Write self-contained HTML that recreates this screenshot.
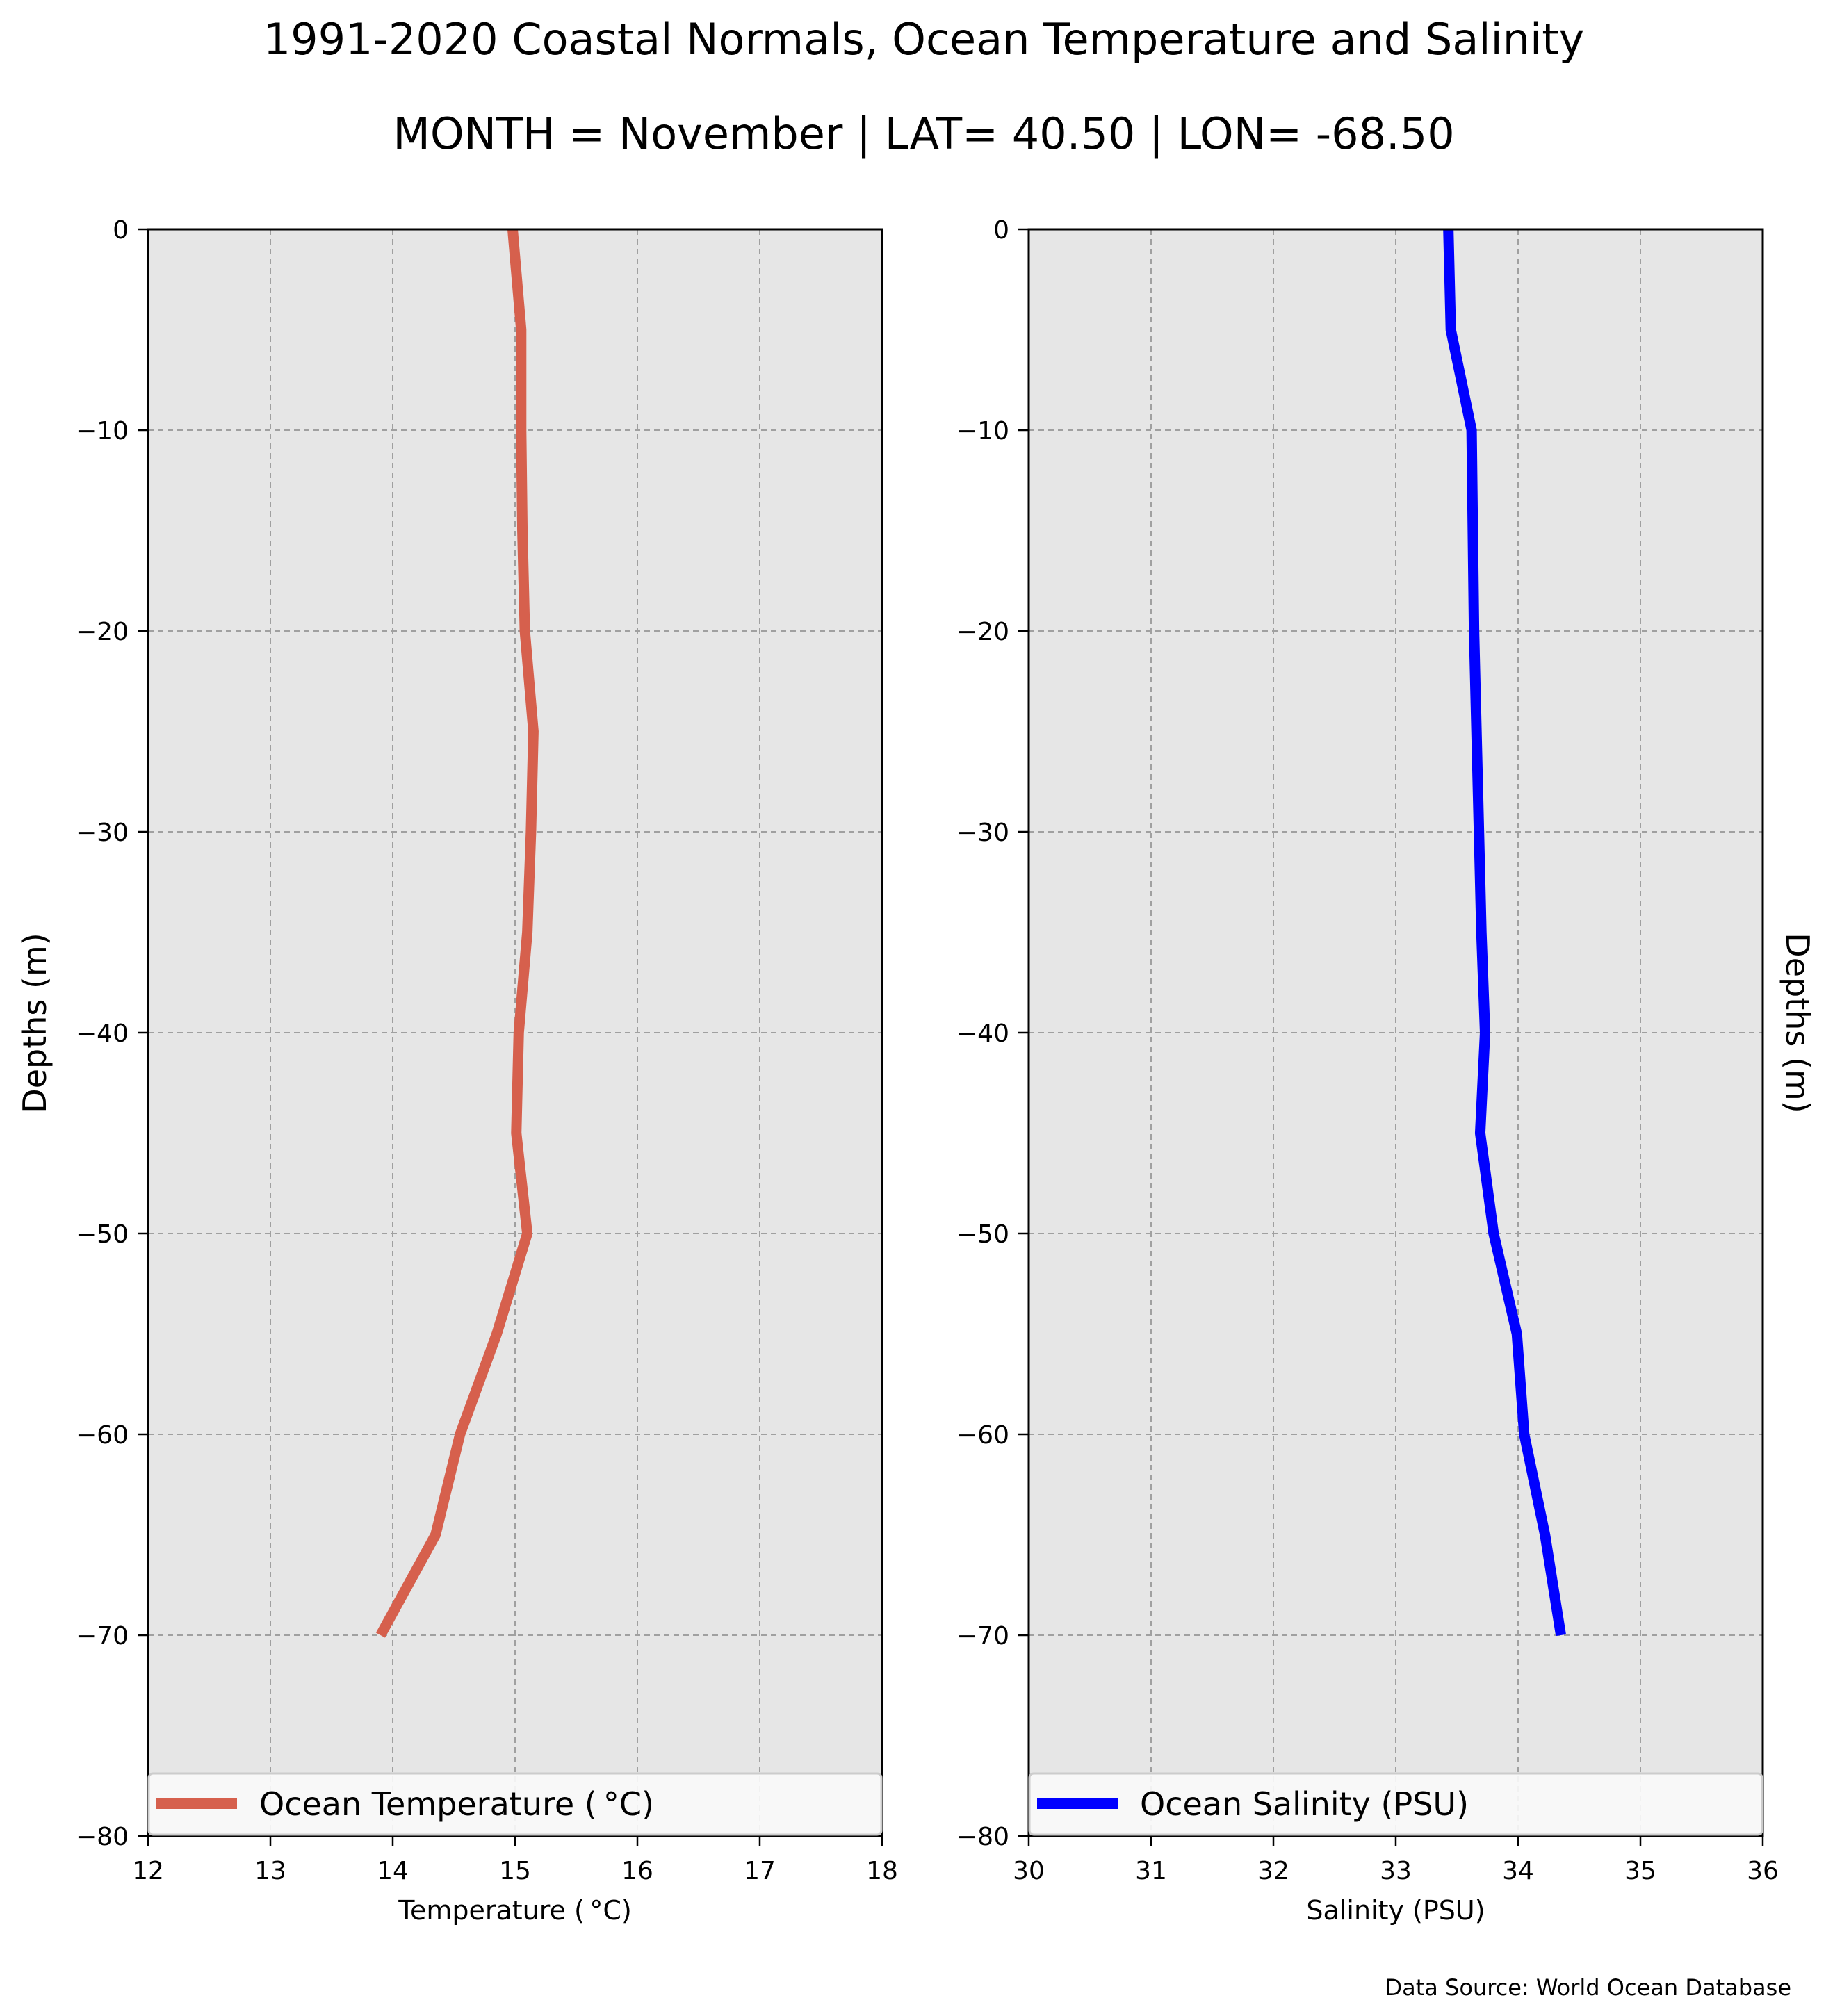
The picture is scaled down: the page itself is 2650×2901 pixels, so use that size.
<!DOCTYPE html>
<html><head><meta charset="utf-8"><style>
body{margin:0;background:#fff}
svg{display:block;font-family:"DejaVu Sans","Liberation Sans",sans-serif}
</style></head><body>
<svg id="fig" width="2650" height="2901" viewBox="0 0 2650 2901" xmlns="http://www.w3.org/2000/svg">
<text x="1329" y="78" font-size="62" text-anchor="middle">1991-2020 Coastal Normals, Ocean Temperature and Salinity</text>
<text x="1329" y="214" font-size="62" text-anchor="middle">MONTH = November | LAT= 40.50 | LON= -68.50</text>
<text x="2577" y="2871" font-size="32" text-anchor="end">Data Source: World Ocean Database</text>
<text transform="translate(66,1472) rotate(-90)" font-size="46" text-anchor="middle">Depths (m)</text>
<text transform="translate(2570,1472) rotate(90)" font-size="46" text-anchor="middle">Depths (m)</text>
<g id="p1"></g>
<g id="p2"></g>
</svg>
<script>
const depths = [0,-5,-10,-15,-20,-25,-30,-35,-40,-45,-50,-55,-60,-65,-70];
const temperature = [14.98,15.05,15.05,15.06,15.08,15.15,15.13,15.10,15.03,15.01,15.10,14.85,14.55,14.35,13.90];
const salinity = [33.43,33.45,33.62,33.63,33.64,33.66,33.68,33.70,33.73,33.69,33.80,33.99,34.05,34.22,34.35];
const depthTicks = [0,-10,-20,-30,-40,-50,-60,-70,-80];
const tempTicks = [12,13,14,15,16,17,18];
const salTicks = [30,31,32,33,34,35,36];

const NS="http://www.w3.org/2000/svg";
function mk(parent,tag,attrs){const e=document.createElementNS(NS,tag);for(const k in attrs)e.setAttribute(k,attrs[k]);parent.appendChild(e);return e;}
const plotTop=330,plotBottom=2642;
function yScale(d){return plotTop+(0-d)/80*(plotBottom-plotTop);}

function panel(g,x0,x1,xmin,xmax,xticks,vals,color,legendText,xlabel,prefix){
  const xs=v=>x0+(v-xmin)/(xmax-xmin)*(x1-x0);
  const bg=mk(g,'rect',{x:x0,y:plotTop,width:x1-x0,height:plotBottom-plotTop,fill:'#e6e6e6'});
  
  
  xticks.forEach(t=>{
    const gl=mk(g,'line',{x1:xs(t),x2:xs(t),y1:plotTop,y2:plotBottom,stroke:'#a0a0a0','stroke-width':2,'stroke-dasharray':'8,6'});
    
    
    const tk=mk(g,'line',{x1:xs(t),x2:xs(t),y1:plotBottom,y2:plotBottom+15,stroke:'#000','stroke-width':2.5});
    
    
    const tl=mk(g,'text',{x:xs(t),y:plotBottom+62,'font-size':36,'text-anchor':'middle'});
    tl.textContent=t;
    
    
  });
  depthTicks.forEach(d=>{
    const y=yScale(d);
    const gl=mk(g,'line',{x1:x0,x2:x1,y1:y,y2:y,stroke:'#a0a0a0','stroke-width':2,'stroke-dasharray':'8,6'});
    
    
    const tk=mk(g,'line',{x1:x0-15,x2:x0,y1:y,y2:y,stroke:'#000','stroke-width':2.5});
    
    
    const tl=mk(g,'text',{x:x0-28,y:y+13,'font-size':36,'text-anchor':'end'});
    tl.textContent=d===0?'0':'\u2212'+Math.abs(d);
    
    
  });
  const pts=vals.map((v,i)=>xs(v)+','+yScale(depths[i])).join(' ');
  const pl=mk(g,'polyline',{points:pts,fill:'none',stroke:color,'stroke-width':15,'stroke-linejoin':'miter'});
  
  
  const fr=mk(g,'rect',{x:x0,y:plotTop,width:x1-x0,height:plotBottom-plotTop,fill:'none',stroke:'#000','stroke-width':3});
  
  
  const lg=mk(g,'rect',{x:x0+1,y:2552,width:x1-x0-2,height:88,rx:6,fill:'#fafafa','fill-opacity':0.9,stroke:'#cccccc','stroke-width':3});
  
  
  const ll=mk(g,'line',{x1:x0+12,x2:x0+128,y1:2595,y2:2595,stroke:color,'stroke-width':16});
  
  
  const lt=mk(g,'text',{x:x0+160,y:2612,'font-size':46});
  lt.textContent=legendText;
  
  
  const xl=mk(g,'text',{x:(x0+x1)/2,y:2762,'font-size':38,'text-anchor':'middle'});
  xl.textContent=xlabel;
  
  
}
panel(document.getElementById('p1'),213,1269,12,18,tempTicks,temperature,'#d6604d','Ocean Temperature (\u2009\u00b0C)','Temperature (\u2009\u00b0C)','temperature');
panel(document.getElementById('p2'),1480,2536,30,36,salTicks,salinity,'#0000ff','Ocean Salinity (PSU)','Salinity (PSU)','salinity');
</script>
</body></html>
